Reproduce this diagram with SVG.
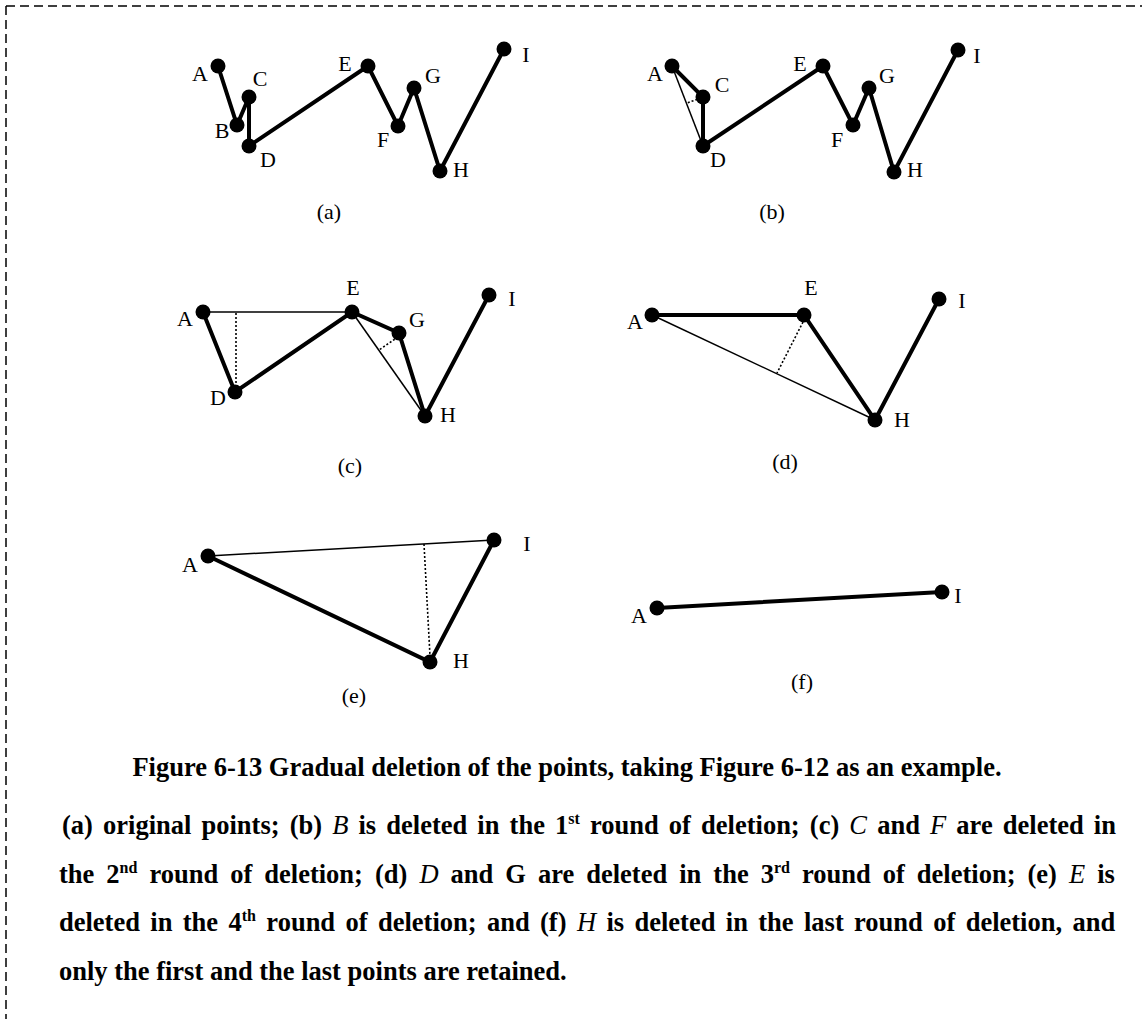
<svg xmlns="http://www.w3.org/2000/svg" width="1142" height="1019" viewBox="0 0 1142 1019">
<style>
.thick{stroke:#000;stroke-width:4;stroke-linecap:round;fill:none}
.thin{stroke:#000;stroke-width:1.5;fill:none}
.dot{stroke:#000;stroke-width:1.6;stroke-dasharray:2 2;fill:none}
.pt circle{fill:#000}
.pt text,.cap{font-family:"Liberation Serif","Times New Roman",serif;font-size:22px;fill:#000;text-anchor:middle}
.cap{font-size:22px}
.body{font-family:"Liberation Serif","Times New Roman",serif;font-size:26.5px;font-weight:bold;fill:#000}
.it{font-style:italic;font-weight:normal}
.border{stroke:#000;stroke-width:1.5;stroke-dasharray:9 5;fill:none}
</style>
<rect width="1142" height="1019" fill="#fff"/>
<g id="frame">
<line class="border" x1="6" y1="6" x2="1142" y2="6"/>
<line class="border" x1="6" y1="6" x2="6" y2="1019"/>
</g>

<!-- panel (a) -->
<g id="panel-a">
<g id="a-edges">
<polyline class="thick" points="218,66 237,125 249,97 249,146 368,66 398,126 414,88 440,171 504,49"/>
</g>
<g id="a-A" class="pt"><circle cx="218" cy="66" r="7.5"/><text x="200" y="81">A</text></g>
<g id="a-B" class="pt"><circle cx="237" cy="125" r="7.5"/><text x="222" y="138">B</text></g>
<g id="a-C" class="pt"><circle cx="249" cy="97" r="7.5"/><text x="260" y="86">C</text></g>
<g id="a-D" class="pt"><circle cx="249" cy="146" r="7.5"/><text x="268" y="167">D</text></g>
<g id="a-E" class="pt"><circle cx="368" cy="66" r="7.5"/><text x="345" y="71">E</text></g>
<g id="a-F" class="pt"><circle cx="398" cy="126" r="7.5"/><text x="383" y="147">F</text></g>
<g id="a-G" class="pt"><circle cx="414" cy="88" r="7.5"/><text x="433" y="83">G</text></g>
<g id="a-H" class="pt"><circle cx="440" cy="171" r="7.5"/><text x="461" y="177">H</text></g>
<g id="a-I" class="pt"><circle cx="504" cy="49" r="7.5"/><text x="526" y="62">I</text></g>
<text class="cap" x="329" y="219">(a)</text>
</g>

<!-- panel (b) -->
<g id="panel-b">
<g id="b-edges">
<polyline class="thick" points="672,66 703,97 703,146 823,66 853,125 869,88 894,172 958,50"/>
<line class="thin" x1="672" y1="66" x2="703" y2="146"/>
<line class="dot" x1="701" y1="98" x2="687" y2="103"/>
</g>
<g id="b-A" class="pt"><circle cx="672" cy="66" r="7.5"/><text x="655" y="81">A</text></g>
<g id="b-C" class="pt"><circle cx="703" cy="97" r="7.5"/><text x="722" y="92">C</text></g>
<g id="b-D" class="pt"><circle cx="703" cy="146" r="7.5"/><text x="718" y="167">D</text></g>
<g id="b-E" class="pt"><circle cx="823" cy="66" r="7.5"/><text x="800" y="71">E</text></g>
<g id="b-F" class="pt"><circle cx="853" cy="125" r="7.5"/><text x="837" y="147">F</text></g>
<g id="b-G" class="pt"><circle cx="869" cy="88" r="7.5"/><text x="887" y="83">G</text></g>
<g id="b-H" class="pt"><circle cx="894" cy="172" r="7.5"/><text x="915" y="177">H</text></g>
<g id="b-I" class="pt"><circle cx="958" cy="50" r="7.5"/><text x="977" y="63">I</text></g>
<text class="cap" x="772" y="219">(b)</text>
</g>

<!-- panel (c) -->
<g id="panel-c">
<g id="c-edges">
<polyline class="thick" points="203,312 235,392 352,312 399,333 425,416 489,295"/>
<line class="thin" x1="203" y1="312" x2="352" y2="312"/>
<line class="thin" x1="352" y1="312" x2="425" y2="416"/>
<line class="dot" x1="236" y1="313" x2="236" y2="388"/>
<line class="dot" x1="398" y1="337" x2="379" y2="350"/>
</g>
<g id="c-A" class="pt"><circle cx="203" cy="312" r="7.5"/><text x="185" y="326">A</text></g>
<g id="c-D" class="pt"><circle cx="235" cy="392" r="7.5"/><text x="218" y="405">D</text></g>
<g id="c-E" class="pt"><circle cx="352" cy="312" r="7.5"/><text x="353" y="295">E</text></g>
<g id="c-G" class="pt"><circle cx="399" cy="333" r="7.5"/><text x="417" y="327">G</text></g>
<g id="c-H" class="pt"><circle cx="425" cy="416" r="7.5"/><text x="448" y="422">H</text></g>
<g id="c-I" class="pt"><circle cx="489" cy="295" r="7.5"/><text x="512" y="306">I</text></g>
<text class="cap" x="350" y="473">(c)</text>
</g>

<!-- panel (d) -->
<g id="panel-d">
<g id="d-edges">
<polyline class="thick" points="652,315 804,315 875,420 939,299"/>
<line class="thin" x1="652" y1="315" x2="875" y2="420"/>
<line class="dot" x1="803" y1="322" x2="777" y2="373"/>
</g>
<g id="d-A" class="pt"><circle cx="652" cy="315" r="7.5"/><text x="635" y="329">A</text></g>
<g id="d-E" class="pt"><circle cx="804" cy="315" r="7.5"/><text x="811" y="295">E</text></g>
<g id="d-H" class="pt"><circle cx="875" cy="420" r="7.5"/><text x="902" y="427">H</text></g>
<g id="d-I" class="pt"><circle cx="939" cy="299" r="7.5"/><text x="962" y="308">I</text></g>
<text class="cap" x="785" y="469">(d)</text>
</g>

<!-- panel (e) -->
<g id="panel-e">
<g id="e-edges">
<polyline class="thick" points="208,556 430,662 494,540"/>
<line class="thin" x1="208" y1="556" x2="494" y2="540"/>
<line class="dot" x1="424" y1="544" x2="430" y2="656"/>
</g>
<g id="e-A" class="pt"><circle cx="208" cy="556" r="7.5"/><text x="190" y="572">A</text></g>
<g id="e-H" class="pt"><circle cx="430" cy="662" r="7.5"/><text x="461" y="668">H</text></g>
<g id="e-I" class="pt"><circle cx="494" cy="540" r="7.5"/><text x="527" y="551">I</text></g>
<text class="cap" x="354" y="703">(e)</text>
</g>

<!-- panel (f) -->
<g id="panel-f">
<g id="f-edges">
<line class="thick" x1="657" y1="608" x2="942" y2="592"/>
</g>
<g id="f-A" class="pt"><circle cx="657" cy="608" r="7.5"/><text x="639" y="623">A</text></g>
<g id="f-I" class="pt"><circle cx="942" cy="592" r="7.5"/><text x="958" y="603">I</text></g>
<text class="cap" x="802" y="689">(f)</text>
</g>

<!-- caption -->
<g id="caption">
<text class="body" x="567" y="776" text-anchor="middle">Figure 6-13 Gradual deletion of the points, taking Figure 6-12 as an example.</text>
<text class="body" x="62" y="834" word-spacing="3.5">(a) original points; (b) <tspan class="it">B</tspan> is deleted in the 1<tspan font-size="16" dy="-10">st</tspan><tspan dy="10"> round of deletion; (c) </tspan><tspan class="it">C</tspan> and <tspan class="it">F</tspan> are deleted in</text>
<text class="body" x="59" y="883" word-spacing="5.4">the 2<tspan font-size="16" dy="-10">nd</tspan><tspan dy="10"> round of deletion; (d) </tspan><tspan class="it">D</tspan> and G are deleted in the 3<tspan font-size="16" dy="-10">rd</tspan><tspan dy="10"> round of deletion; (e) </tspan><tspan class="it">E</tspan> is</text>
<text class="body" x="59" y="931" word-spacing="3.75">deleted in the 4<tspan font-size="16" dy="-10">th</tspan><tspan dy="10"> round of deletion; and (f) </tspan><tspan class="it">H</tspan> is deleted in the last round of deletion, and</text>
<text class="body" x="59" y="980">only the first and the last points are retained.</text>
</g>
</svg>
